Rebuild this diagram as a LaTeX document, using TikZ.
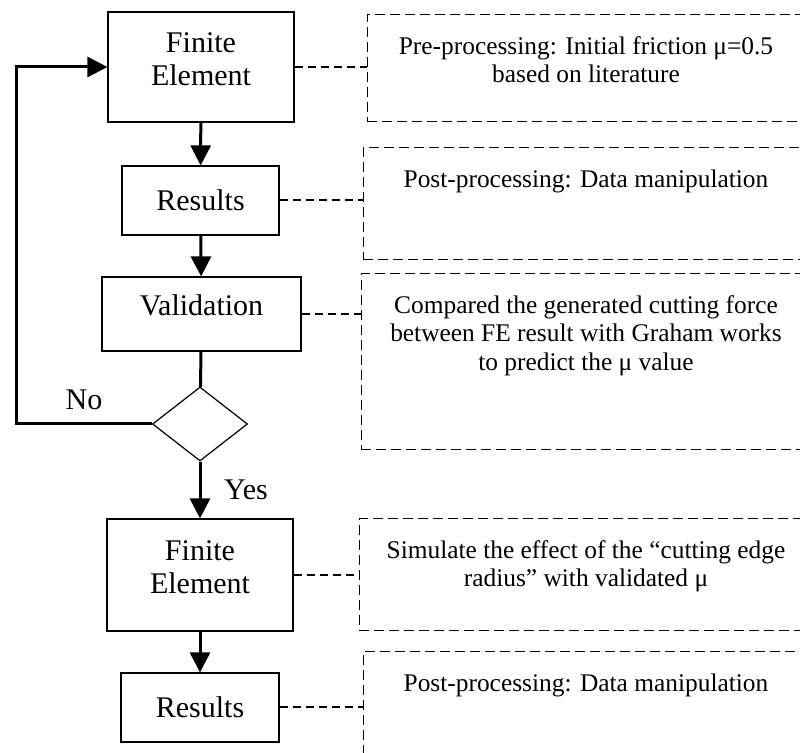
\documentclass[tikz,border=0pt]{standalone}
\usepackage{fontspec}
\setmainfont{Liberation Serif}
\usetikzlibrary{shapes.geometric,arrows.meta}

\begin{document}
\begin{tikzpicture}[x=0.5pt,y=-0.5pt,
    stage/.style={draw,line width=0.6pt,align=center,inner sep=0pt,font=\fontsize{15}{16.5}\selectfont},
    note/.style={draw,dash pattern=on 5pt off 2.5pt,line width=0.5pt,inner sep=0pt},
    notetext/.style={anchor=north,align=center,inner sep=0pt,font=\fontsize{12.7}{14.2}\selectfont},
    flow/.style={line width=1.5pt,-{Triangle[width=10pt,length=10pt]}},
    link/.style={line width=1pt,dash pattern=on 4pt off 2.5pt}]

    \useasboundingbox (0,0) rectangle (800,753);
    \clip (0,0) rectangle (800,753);

    \node[stage, minimum width=93pt, minimum height=55pt, text depth=8pt] (fe1) at (201, 67) {Finite\\Element};
    \node[stage, minimum width=78.5pt, minimum height=34.5pt] (res1) at (200.5, 200.5) {Results};
    \node[stage, minimum width=99.5pt, minimum height=37pt, text depth=9pt] (val) at (201.5, 314) {Validation};
    \node[draw, diamond, line width=0.6pt, inner sep=0pt, minimum width=47.5pt, minimum height=37pt] (dec) at (200, 424) {};
    \node[stage, minimum width=93pt, minimum height=56pt, text depth=8pt] (fe2) at (200, 575) {Finite\\Element};
    \node[stage, minimum width=79pt, minimum height=34.5pt] (res2) at (200, 707.5) {Results};
    \coordinate (loop) at (16, 424);

    \node[note, minimum width=221.5pt, minimum height=53.5pt] (n1) at (588.5, 68.5) {};
    \node[note, minimum width=223.5pt, minimum height=56pt] (n2) at (586.5, 204) {};
    \node[note, minimum width=224.5pt, minimum height=88pt] (n3) at (585.5, 362) {};
    \node[note, minimum width=225.5pt, minimum height=56pt] (n4) at (584.5, 575) {};
    \node[note, minimum width=223.5pt, minimum height=69pt] (n5) at (586.5, 721) {};

    \node[notetext] (t1) at (586, 36) {Pre-processing: Initial friction μ=0.5\\based on literature};
    \node[notetext] (t2) at (586, 169) {Post-processing: Data manipulation};
    \node[notetext] (t3) at (586, 295) {Compared the generated cutting force\\between FE result with Graham works\\to predict the μ value};
    \node[notetext] (t4) at (586, 540) {Simulate the effect of the “cutting edge\\radius” with validated μ};
    \node[notetext] (t5) at (586, 673) {Post-processing: Data manipulation};

    \draw [flow] (fe1) to (res1);
    \draw [flow] (res1) to (val);
    \draw [line width=1.5pt] (val) to (dec);
    \draw [flow] (dec) to node[right=8pt, font=\fontsize{15}{16.5}\selectfont] {Yes} (fe2);
    \draw [flow] (fe2) to (res2);
    \draw [flow] (dec.west) to node[above=3pt, font=\fontsize{15}{16.5}\selectfont] {No} (loop) |- (fe1.west);

    \draw [link] (fe1.east) to (fe1.east -| n1.west);
    \draw [link] (res1.east) to (res1.east -| n2.west);
    \draw [link] (val.east) to (val.east -| n3.west);
    \draw [link] (fe2.east) to (fe2.east -| n4.west);
    \draw [link] (res2.east) to (res2.east -| n5.west);

\end{tikzpicture}
\end{document}
